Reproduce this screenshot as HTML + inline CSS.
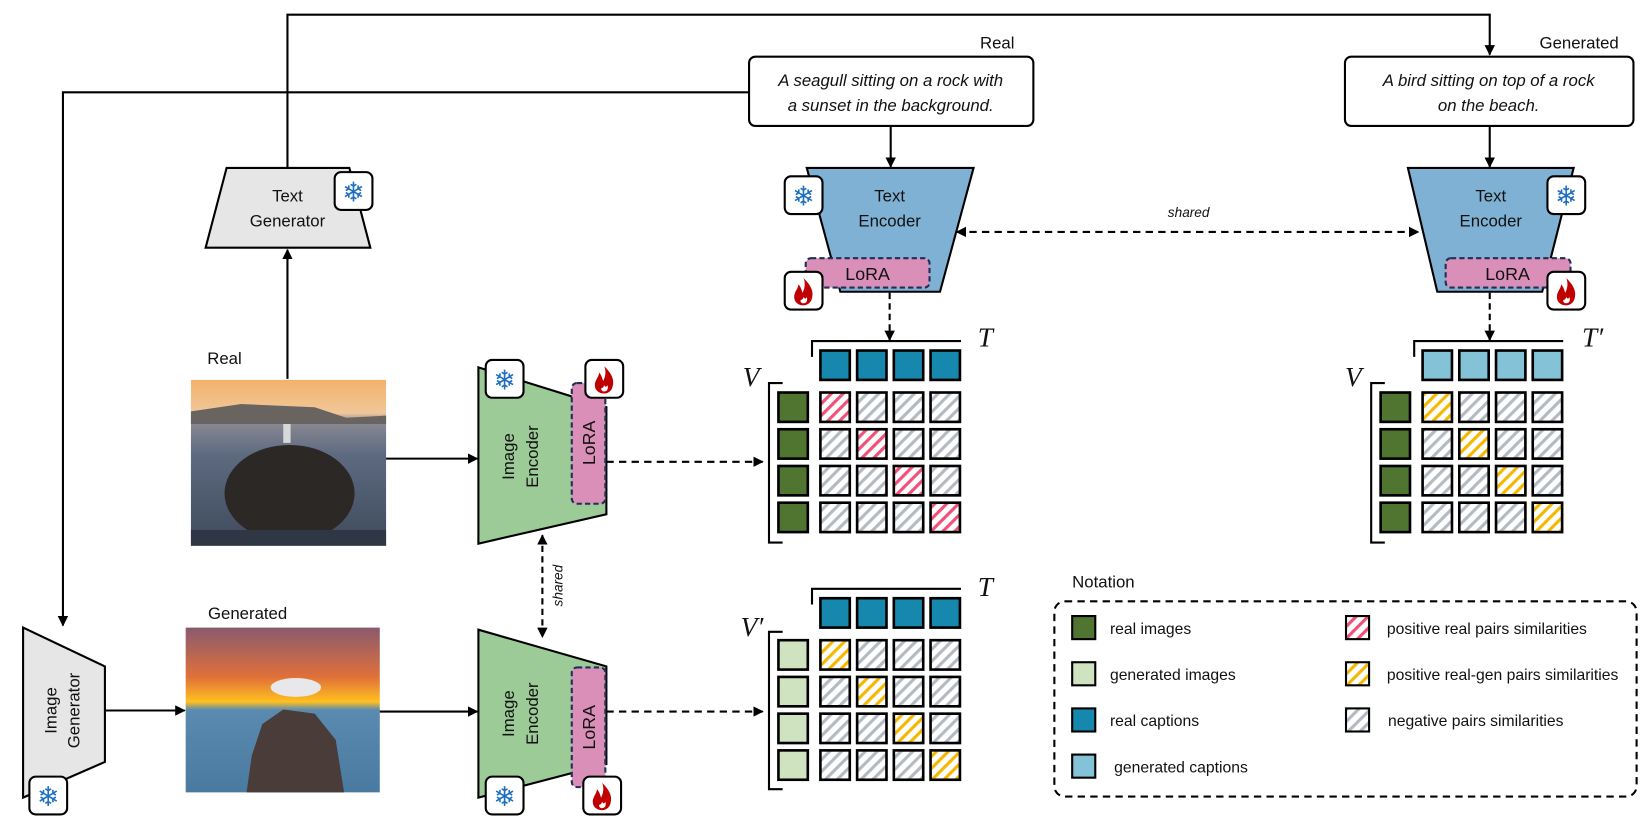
<!DOCTYPE html>
<html><head><meta charset="utf-8"><style>
html,body{margin:0;padding:0;background:#fff;}
svg{display:block;}
text{font-family:"Liberation Sans","DejaVu Sans",sans-serif;fill:#111;}
.ml{font-family:"Liberation Serif",serif;font-style:italic;font-size:26px;}
</style></head><body>
<svg width="1645" height="827" viewBox="0 0 1568 788" preserveAspectRatio="none" xmlns="http://www.w3.org/2000/svg">
<defs>
<marker id="ar" markerWidth="10" markerHeight="10" refX="9" refY="5" orient="auto" markerUnits="userSpaceOnUse">
<path d="M0,0 L10,5 L0,10 Z" fill="#000"/></marker>
<marker id="al" markerWidth="10" markerHeight="10" refX="1" refY="5" orient="auto" markerUnits="userSpaceOnUse">
<path d="M10,0 L0,5 L10,10 Z" fill="#000"/></marker>
<pattern id="hp" width="8" height="8" patternUnits="userSpaceOnUse" patternTransform="rotate(45)"><rect width="8" height="8" fill="#fff"/><rect width="3" height="8" fill="#f0507a"/></pattern>
<pattern id="hy" width="8" height="8" patternUnits="userSpaceOnUse" patternTransform="rotate(45)"><rect width="8" height="8" fill="#fff"/><rect width="3" height="8" fill="#f5b800"/></pattern>
<pattern id="hg" width="8" height="8" patternUnits="userSpaceOnUse" patternTransform="rotate(45)"><rect width="8" height="8" fill="#fff"/><rect width="3" height="8" fill="#b4bac2"/></pattern>
<linearGradient id="sky1" x1="0" y1="0" x2="0" y2="1"><stop offset="0" stop-color="#f3b26a"/><stop offset="0.2" stop-color="#f0c79a"/><stop offset="0.25" stop-color="#8a8a93"/><stop offset="0.45" stop-color="#5d6a80"/><stop offset="1" stop-color="#3f4a5c"/></linearGradient>
<linearGradient id="sky2" x1="0" y1="0" x2="0" y2="1"><stop offset="0" stop-color="#8a5a6e"/><stop offset="0.3" stop-color="#e0703a"/><stop offset="0.45" stop-color="#ffc020"/><stop offset="0.5" stop-color="#5a8ab0"/><stop offset="1" stop-color="#4a7aa0"/></linearGradient>
<g id="snow"><rect x="0" y="0" width="36" height="36" rx="6" fill="#fff" stroke="#000" stroke-width="2"/><text x="18" y="28" font-size="26" text-anchor="middle" style="fill:#1f6fc0">❄</text></g>
<g id="fire"><rect x="0" y="0" width="36" height="36" rx="6" fill="#fff" stroke="#000" stroke-width="2"/><path d="M18,6 C24,12 28,18 26,25 C25,30 21,32 18,32 C13,32 9,29 9,24 C9,19 13,16 13,12 C16,15 16,18 17,20 C19,16 20,11 18,6 Z M18,30 C21,30 22,27 21,24 C20,26 19,26 18,24 C17,27 15,27 15,27 C15,29 16,30 18,30Z" fill="#c00000" fill-rule="evenodd"/></g>
</defs>

<polyline points="274,160 274,14 1420,14 1420,52" fill="none" stroke="#000" stroke-width="2" marker-end="url(#ar)"/>
<polyline points="714,88 60,88 60,596" fill="none" stroke="#000" stroke-width="2" marker-end="url(#ar)"/>

<rect x="714" y="54" width="271" height="66" rx="6" fill="#fff" stroke="#000" stroke-width="2"/>
<text x="849" y="82" font-size="16" font-style="italic" text-anchor="middle">A seagull sitting on a rock with</text>
<text x="849" y="106" font-size="16" font-style="italic" text-anchor="middle">a sunset in the background.</text>
<text x="967" y="46" font-size="16" text-anchor="end">Real</text>
<rect x="1282" y="54" width="275" height="66" rx="6" fill="#fff" stroke="#000" stroke-width="2"/>
<text x="1419" y="82" font-size="16" font-style="italic" text-anchor="middle">A bird sitting on top of a rock</text>
<text x="1419" y="106" font-size="16" font-style="italic" text-anchor="middle">on the beach.</text>
<text x="1543" y="46" font-size="16" text-anchor="end">Generated</text>

<line x1="849" y1="120" x2="849" y2="159" stroke="#000" stroke-width="2" marker-end="url(#ar)"/>
<line x1="1420" y1="120" x2="1420" y2="159" stroke="#000" stroke-width="2" marker-end="url(#ar)"/>

<polygon points="769,160 928,160 896,278 801,278" fill="#7fb1d4" stroke="#000" stroke-width="2"/>
<text x="848" y="192" font-size="16" text-anchor="middle">Text</text>
<text x="848" y="216" font-size="16" text-anchor="middle">Encoder</text>
<rect x="768" y="246" width="118" height="28" rx="5" fill="#d98fb8" stroke="#1f2f55" stroke-width="2" stroke-dasharray="5,3"/>
<text x="827" y="267" font-size="17" text-anchor="middle">LoRA</text>
<use href="#snow" x="748" y="168"/>
<use href="#fire" x="748" y="259"/>

<polygon points="1342,160 1500,160 1470,278 1370,278" fill="#7fb1d4" stroke="#000" stroke-width="2"/>
<text x="1421" y="192" font-size="16" text-anchor="middle">Text</text>
<text x="1421" y="216" font-size="16" text-anchor="middle">Encoder</text>
<rect x="1378" y="246" width="119" height="28" rx="5" fill="#d98fb8" stroke="#1f2f55" stroke-width="2" stroke-dasharray="5,3"/>
<text x="1437" y="267" font-size="17" text-anchor="middle">LoRA</text>
<use href="#snow" x="1475" y="168"/>
<use href="#fire" x="1475" y="259"/>

<line x1="912" y1="221" x2="1352" y2="221" stroke="#000" stroke-width="2" stroke-dasharray="7,5" marker-start="url(#al)" marker-end="url(#ar)"/>
<text x="1133" y="207" font-size="13" font-style="italic" text-anchor="middle">shared</text>

<line x1="848" y1="279" x2="848" y2="324" stroke="#000" stroke-width="2" stroke-dasharray="6,4" marker-end="url(#ar)"/>
<line x1="1420" y1="279" x2="1420" y2="324" stroke="#000" stroke-width="2" stroke-dasharray="6,4" marker-end="url(#ar)"/>

<g stroke="#000" stroke-width="2.5">
<polyline points="774,340 774,325 916,325" fill="none" stroke-width="2"/>
<polyline points="746,365 733,365 733,517 746,517" fill="none" stroke-width="2"/>
<rect x="782" y="334" width="28" height="28" fill="#1788ad"/><rect x="817" y="334" width="28" height="28" fill="#1788ad"/><rect x="852" y="334" width="28" height="28" fill="#1788ad"/><rect x="887" y="334" width="28" height="28" fill="#1788ad"/>
<rect x="742" y="374" width="28" height="28" fill="#4f7530"/><rect x="742" y="409" width="28" height="28" fill="#4f7530"/><rect x="742" y="444" width="28" height="28" fill="#4f7530"/><rect x="742" y="479" width="28" height="28" fill="#4f7530"/>
<rect x="782" y="374" width="28" height="28" fill="url(#hp)"/><rect x="817" y="374" width="28" height="28" fill="url(#hg)"/><rect x="852" y="374" width="28" height="28" fill="url(#hg)"/><rect x="887" y="374" width="28" height="28" fill="url(#hg)"/>
<rect x="782" y="409" width="28" height="28" fill="url(#hg)"/><rect x="817" y="409" width="28" height="28" fill="url(#hp)"/><rect x="852" y="409" width="28" height="28" fill="url(#hg)"/><rect x="887" y="409" width="28" height="28" fill="url(#hg)"/>
<rect x="782" y="444" width="28" height="28" fill="url(#hg)"/><rect x="817" y="444" width="28" height="28" fill="url(#hg)"/><rect x="852" y="444" width="28" height="28" fill="url(#hp)"/><rect x="887" y="444" width="28" height="28" fill="url(#hg)"/>
<rect x="782" y="479" width="28" height="28" fill="url(#hg)"/><rect x="817" y="479" width="28" height="28" fill="url(#hg)"/><rect x="852" y="479" width="28" height="28" fill="url(#hg)"/><rect x="887" y="479" width="28" height="28" fill="url(#hp)"/>
</g>
<text x="708" y="368" class="ml">V</text>
<text x="932" y="330" class="ml">T</text>

<g stroke="#000" stroke-width="2.5">
<polyline points="1348,340 1348,325 1490,325" fill="none" stroke-width="2"/>
<polyline points="1320,365 1307,365 1307,517 1320,517" fill="none" stroke-width="2"/>
<rect x="1356" y="334" width="28" height="28" fill="#84c2d8"/><rect x="1391" y="334" width="28" height="28" fill="#84c2d8"/><rect x="1426" y="334" width="28" height="28" fill="#84c2d8"/><rect x="1461" y="334" width="28" height="28" fill="#84c2d8"/>
<rect x="1316" y="374" width="28" height="28" fill="#4f7530"/><rect x="1316" y="409" width="28" height="28" fill="#4f7530"/><rect x="1316" y="444" width="28" height="28" fill="#4f7530"/><rect x="1316" y="479" width="28" height="28" fill="#4f7530"/>
<rect x="1356" y="374" width="28" height="28" fill="url(#hy)"/><rect x="1391" y="374" width="28" height="28" fill="url(#hg)"/><rect x="1426" y="374" width="28" height="28" fill="url(#hg)"/><rect x="1461" y="374" width="28" height="28" fill="url(#hg)"/>
<rect x="1356" y="409" width="28" height="28" fill="url(#hg)"/><rect x="1391" y="409" width="28" height="28" fill="url(#hy)"/><rect x="1426" y="409" width="28" height="28" fill="url(#hg)"/><rect x="1461" y="409" width="28" height="28" fill="url(#hg)"/>
<rect x="1356" y="444" width="28" height="28" fill="url(#hg)"/><rect x="1391" y="444" width="28" height="28" fill="url(#hg)"/><rect x="1426" y="444" width="28" height="28" fill="url(#hy)"/><rect x="1461" y="444" width="28" height="28" fill="url(#hg)"/>
<rect x="1356" y="479" width="28" height="28" fill="url(#hg)"/><rect x="1391" y="479" width="28" height="28" fill="url(#hg)"/><rect x="1426" y="479" width="28" height="28" fill="url(#hg)"/><rect x="1461" y="479" width="28" height="28" fill="url(#hy)"/>
</g>
<text x="1282" y="368" class="ml">V</text>
<text x="1508" y="330" class="ml">T′</text>

<g stroke="#000" stroke-width="2.5">
<polyline points="774,576 774,561 916,561" fill="none" stroke-width="2"/>
<polyline points="746,602 733,602 733,752 746,752" fill="none" stroke-width="2"/>
<rect x="782" y="570" width="28" height="28" fill="#1788ad"/><rect x="817" y="570" width="28" height="28" fill="#1788ad"/><rect x="852" y="570" width="28" height="28" fill="#1788ad"/><rect x="887" y="570" width="28" height="28" fill="#1788ad"/>
<rect x="742" y="610" width="28" height="28" fill="#cfe3c0"/><rect x="742" y="645" width="28" height="28" fill="#cfe3c0"/><rect x="742" y="680" width="28" height="28" fill="#cfe3c0"/><rect x="742" y="715" width="28" height="28" fill="#cfe3c0"/>
<rect x="782" y="610" width="28" height="28" fill="url(#hy)"/><rect x="817" y="610" width="28" height="28" fill="url(#hg)"/><rect x="852" y="610" width="28" height="28" fill="url(#hg)"/><rect x="887" y="610" width="28" height="28" fill="url(#hg)"/>
<rect x="782" y="645" width="28" height="28" fill="url(#hg)"/><rect x="817" y="645" width="28" height="28" fill="url(#hy)"/><rect x="852" y="645" width="28" height="28" fill="url(#hg)"/><rect x="887" y="645" width="28" height="28" fill="url(#hg)"/>
<rect x="782" y="680" width="28" height="28" fill="url(#hg)"/><rect x="817" y="680" width="28" height="28" fill="url(#hg)"/><rect x="852" y="680" width="28" height="28" fill="url(#hy)"/><rect x="887" y="680" width="28" height="28" fill="url(#hg)"/>
<rect x="782" y="715" width="28" height="28" fill="url(#hg)"/><rect x="817" y="715" width="28" height="28" fill="url(#hg)"/><rect x="852" y="715" width="28" height="28" fill="url(#hg)"/><rect x="887" y="715" width="28" height="28" fill="url(#hy)"/>
</g>
<text x="706" y="606" class="ml">V′</text>
<text x="932" y="568" class="ml">T</text>

<polygon points="216,160 333,160 353,236 196,236" fill="#e6e6e6" stroke="#000" stroke-width="2"/>
<text x="274" y="192" font-size="16" text-anchor="middle">Text</text>
<text x="274" y="216" font-size="16" text-anchor="middle">Generator</text>
<use href="#snow" x="319" y="164"/>
<line x1="274" y1="361" x2="274" y2="238" stroke="#000" stroke-width="2" marker-end="url(#ar)"/>

<text x="214" y="347" font-size="16" text-anchor="middle">Real</text>
<rect x="182" y="362" width="186" height="158" fill="url(#sky1)"/>
<path d="M182,392 L230,385 L300,388 L330,398 L368,396 L368,404 L182,404 Z" fill="#6a6460"/>
<ellipse cx="276" cy="470" rx="62" ry="46" fill="#2c2826"/>
<rect x="182" y="505" width="186" height="15" fill="#2f3744"/>
<rect x="270" y="404" width="7" height="18" fill="#d8d8d8"/>
<line x1="368" y1="437" x2="455" y2="437" stroke="#000" stroke-width="2" marker-end="url(#ar)"/>

<text x="236" y="590" font-size="16" text-anchor="middle">Generated</text>
<rect x="177" y="598" width="185" height="157" fill="url(#sky2)"/>
<path d="M235,755 L240,720 L250,690 L270,676 L300,680 L320,705 L328,755 Z" fill="#4a3c38"/>
<ellipse cx="282" cy="655" rx="24" ry="9" fill="#e8e8ea"/>
<line x1="362" y1="678" x2="455" y2="678" stroke="#000" stroke-width="2" marker-end="url(#ar)"/>

<polygon points="22,598 100,635 100,726 22,760" fill="#e6e6e6" stroke="#000" stroke-width="2"/>
<text transform="translate(60,677) rotate(-90)" font-size="16" text-anchor="middle"><tspan x="0" y="-6">Image</tspan><tspan x="0" y="16">Generator</tspan></text>
<use href="#snow" x="28" y="740"/>
<line x1="100" y1="677" x2="176" y2="677" stroke="#000" stroke-width="2" marker-end="url(#ar)"/>

<polygon points="456,350 578,388 578,490 456,518" fill="#9ccb97" stroke="#000" stroke-width="2"/>
<text transform="translate(498,435) rotate(-90)" font-size="16" text-anchor="middle"><tspan x="0" y="-8">Image</tspan><tspan x="0" y="15">Encoder</tspan></text>
<rect x="545" y="365" width="32" height="115" rx="5" fill="#d98fb8" stroke="#1f2f55" stroke-width="2" stroke-dasharray="5,3"/>
<text transform="translate(567,422) rotate(-90)" font-size="17" text-anchor="middle">LoRA</text>
<use href="#snow" x="463" y="343"/>
<use href="#fire" x="558" y="343"/>
<line x1="578" y1="440" x2="727" y2="440" stroke="#000" stroke-width="2" stroke-dasharray="7,5" marker-end="url(#ar)"/>

<polygon points="456,600 578,635 578,728 456,760" fill="#9ccb97" stroke="#000" stroke-width="2"/>
<text transform="translate(498,680) rotate(-90)" font-size="16" text-anchor="middle"><tspan x="0" y="-8">Image</tspan><tspan x="0" y="15">Encoder</tspan></text>
<rect x="545" y="636" width="32" height="114" rx="5" fill="#d98fb8" stroke="#1f2f55" stroke-width="2" stroke-dasharray="5,3"/>
<text transform="translate(567,693) rotate(-90)" font-size="17" text-anchor="middle">LoRA</text>
<use href="#snow" x="463" y="740"/>
<use href="#fire" x="556" y="740"/>
<line x1="578" y1="678" x2="727" y2="678" stroke="#000" stroke-width="2" stroke-dasharray="7,5" marker-end="url(#ar)"/>

<line x1="517" y1="510" x2="517" y2="607" stroke="#000" stroke-width="2" stroke-dasharray="6,4" marker-start="url(#al)" marker-end="url(#ar)"/>
<text transform="translate(536,558) rotate(-90)" font-size="13" font-style="italic" text-anchor="middle">shared</text>

<text x="1022" y="560" font-size="16">Notation</text>
<rect x="1005" y="573" width="555" height="186" rx="10" fill="none" stroke="#000" stroke-width="2" stroke-dasharray="7,5"/>
<g stroke="#000" stroke-width="2">
<rect x="1022" y="587" width="22" height="22" fill="#4f7530"/>
<rect x="1022" y="631" width="22" height="22" fill="#cfe3c0"/>
<rect x="1022" y="675" width="22" height="22" fill="#1788ad"/>
<rect x="1022" y="719" width="22" height="22" fill="#84c2d8"/>
<rect x="1283" y="587" width="22" height="22" fill="url(#hp)"/>
<rect x="1283" y="631" width="22" height="22" fill="url(#hy)"/>
<rect x="1283" y="675" width="22" height="22" fill="url(#hg)"/>
</g>
<g font-size="15">
<text x="1058" y="604">real images</text>
<text x="1058" y="648">generated images</text>
<text x="1058" y="692">real captions</text>
<text x="1062" y="736">generated captions</text>
<text x="1322" y="604">positive real pairs similarities</text>
<text x="1322" y="648">positive real-gen pairs similarities</text>
<text x="1323" y="692">negative pairs similarities</text>
</g>
</svg>
</body></html>
